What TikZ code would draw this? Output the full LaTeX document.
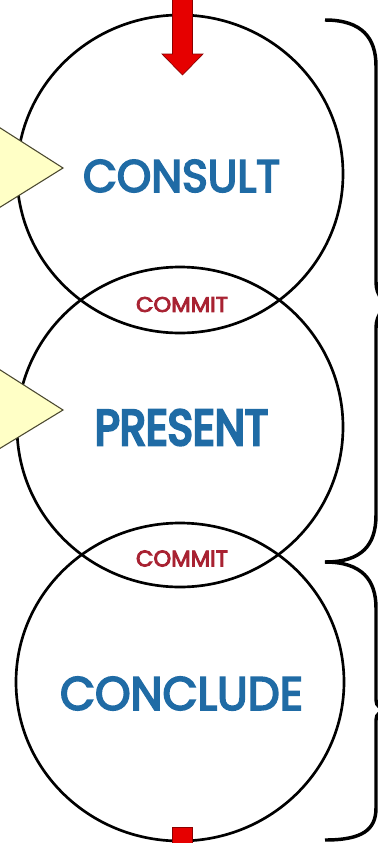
\documentclass[tikz,border=0pt]{standalone}
\usepackage{fontspec}
\usepackage{graphicx}
\setmainfont{Poppins}
\newfontfamily\stagefont{Poppins}[FakeBold=4]
\newfontfamily\strongfont{Poppins}[FakeBold=6]
\definecolor{stageblue}{HTML}{1F6BA5}
\definecolor{commitred}{HTML}{A82232}
\definecolor{arrowred}{HTML}{E60000}
\definecolor{arrowedge}{HTML}{8A0000}
\definecolor{callfill}{HTML}{FFFFC6}
\definecolor{calledge}{HTML}{4A4830}
\tikzset{
  ring/.style={draw=black, line width=2pt},
  stagetext/.style={inner sep=0pt, text=stageblue, font=\stagefont},
  strongtext/.style={inner sep=0pt, text=stageblue, font=\strongfont},
  committext/.style={inner sep=0pt, text=commitred, font=\stagefont},
  callout/.style={fill=callfill, draw=calledge, line width=0.8pt, line join=miter},
  redarrow/.style={fill=arrowred, draw=arrowedge, line width=0.5pt},
  bracestroke/.style={draw=black, line width=2.6pt, line cap=butt}
}
\begin{document}
\begin{tikzpicture}[x=0.75pt, y=-0.75pt]
\useasboundingbox (0,0) rectangle (378,843);
\clip (0,0) rectangle (378,843);
\fill[white] (0,0) rectangle (378,843);

% circle centres
\coordinate (c1) at (180,174);
\coordinate (c2) at (180,427);
\coordinate (c3) at (180,682);

\draw[ring] (c1) ellipse [x radius=163, y radius=159];
\draw[ring] (c2) ellipse [x radius=163, y radius=160];
\draw[ring] (c3) ellipse [x radius=164, y radius=159];

% stage labels
\node[stagetext] (consult) at (181.5,176) {\resizebox{147.75pt}{24pt}{CONSULT}};
\node[strongtext] (present) at (181.5,427.5) {\resizebox{129.75pt}{26.25pt}{PRESENT}};
\node[stagetext] (conclude) at (181.5,693.5) {\resizebox{182.25pt}{24.75pt}{CONCLUDE}};
\node[committext] (commit1) at (182,304.5) {\resizebox{69pt}{11.25pt}{COMMIT}};
\node[committext] (commit2) at (182,558.5) {\resizebox{69pt}{12pt}{COMMIT}};

% yellow callouts
\draw[callout] (-6,124) -- (63,168) -- (-6,211) -- cycle;
\draw[callout] (-6,366) -- (63,410) -- (-6,452) -- cycle;

% red arrow at top
\draw[redarrow] (172.5,-5) -- (192.5,-5) -- (192.5,54) -- (203,54) -- (182.5,75)
  -- (162,54) -- (172.5,54) -- cycle;
% red arrow shaft at bottom
\draw[redarrow] (172.5,827) rectangle (192.5,860);

% braces
\draw[bracestroke] (325,20) .. controls (362,20) and (376,38) .. (376,66)
  -- (376,282) .. controls (376,296) and (384,305) .. (398,305)
  .. controls (384,305) and (376,314) .. (376,328)
  -- (376,515) .. controls (376,545) and (362,562) .. (325,562);
\draw[bracestroke] (325,562) .. controls (362,562) and (376,580) .. (376,608)
  -- (376,700) .. controls (376,706) and (380,710) .. (392,710)
  .. controls (380,710) and (376,714) .. (376,720)
  -- (376,808) .. controls (376,830) and (362,840) .. (325,840);
\end{tikzpicture}
\end{document}
